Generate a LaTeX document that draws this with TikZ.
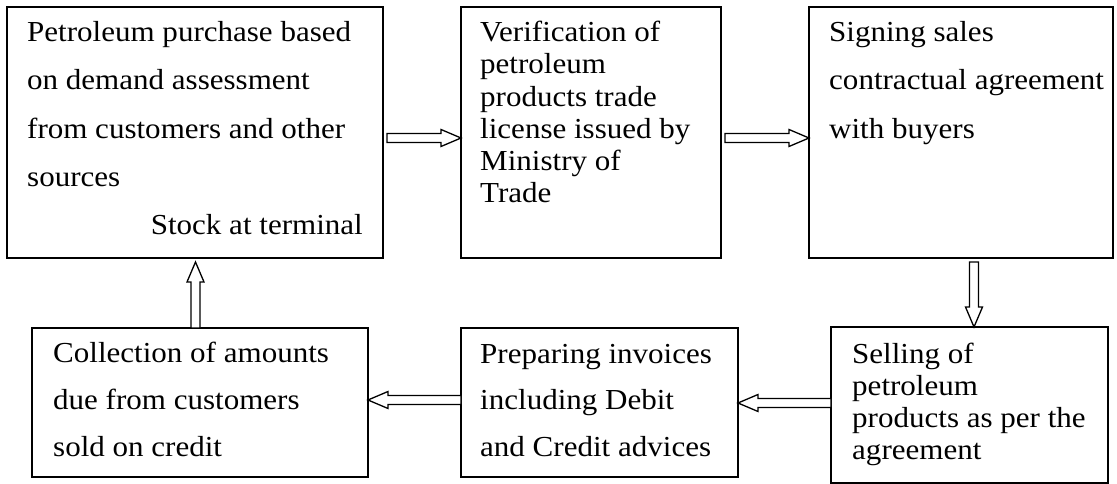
\documentclass[tikz,border=0pt]{standalone}
\usepackage{fontspec}
\setmainfont{Liberation Serif}[FakeStretch=1.07]
\usetikzlibrary{calc}
\newcommand{\boxlines}[1]{\begin{tabular}[t]{@{}l@{}}#1\end{tabular}}
\newcommand{\hollowarrow}[3]{%
  \coordinate (#1h) at ($(#3)!20pt!(#2)$);
  \draw[arrowline] ($(#2)!4.5pt!90:(#3)$) -- ($(#1h)!4.5pt!90:(#3)$) -- ($(#1h)!8.5pt!90:(#3)$) -- (#3)
    -- ($(#1h)!8.5pt!-90:(#3)$) -- ($(#1h)!4.5pt!-90:(#3)$) -- ($(#2)!4.5pt!-90:(#3)$) -- cycle;}
\tikzset{
  box/.style={draw, line width=1.4pt, rectangle, inner sep=0pt, outer sep=0pt},
  arrowline/.style={draw, line width=1.3pt, fill=white, line join=miter},
  wide/.style={anchor=base west, inner sep=0pt, font=\fontsize{29}{48.3}\selectfont},
  tight/.style={anchor=base west, inner sep=0pt, font=\fontsize{29}{32.2}\selectfont},
  mid/.style={anchor=base west, inner sep=0pt, font=\fontsize{29}{46.7}\selectfont}
}
\begin{document}
\begin{tikzpicture}[x=1pt,y=1pt]
\path[fill=white, use as bounding box] (0,0) rectangle (1117,484);

% boxes
\node[box, minimum width=376pt, minimum height=251pt] (b1) at (195,351.5) {};
\node[box, minimum width=260pt, minimum height=251pt] (b2) at (591,351.5) {};
\node[box, minimum width=304pt, minimum height=251pt] (b3) at (961,351.5) {};
\node[box, minimum width=277pt, minimum height=156pt] (b4) at (969.5,79) {};
\node[box, minimum width=277pt, minimum height=149pt] (b5) at (599.5,81.5) {};
\node[box, minimum width=336pt, minimum height=149pt] (b6) at (200,81.5) {};

% texts
\node[wide] (t1) at (27,442.3) {\boxlines{Petroleum purchase based\\on demand assessment\\from customers and other\\sources}};
\node[anchor=base east, inner sep=0pt, font=\fontsize{29}{32}\selectfont] (t1b) at (363,249) {Stock at terminal};
\node[tight] (t2) at (480,442.3) {\boxlines{Verification of\\petroleum\\products trade\\license issued by\\Ministry of\\Trade}};
\node[wide] (t3) at (829,442.3) {\boxlines{Signing sales\\contractual agreement\\with buyers}};
\node[tight] (t4) at (852,120.7) {\boxlines{Selling of\\petroleum\\products as per the\\agreement}};
\node[mid] (t5) at (480,120.7) {\boxlines{Preparing invoices\\including Debit\\and Credit advices}};
\node[mid] (t6) at (53,121) {\boxlines{Collection of amounts\\due from customers\\sold on credit}};

% arrow end points
\coordinate (a12s) at ($(b1.east)+(4,-5.5)$);
\coordinate (a12e) at ($(b2.west)+(0,-5.5)$);
\coordinate (a23s) at ($(b2.east)+(4,-5.5)$);
\coordinate (a23e) at ($(b3.west)+(0,-5.5)$);
\coordinate (a34s) at ($(b3.south)+(13,-4)$);
\coordinate (a34e) at ($(b4.north)+(4.5,0)$);
\coordinate (a45s) at ($(b4.west)+(0,2)$);
\coordinate (a45e) at ($(b5.east)+(0,-0.5)$);
\coordinate (a56s) at ($(b5.west)+(0,2.5)$);
\coordinate (a56e) at ($(b6.east)+(0,2.5)$);
\coordinate (a61s) at ($(b6.north)+(-4.5,0)$);
\coordinate (a61e) at ($(b1.south)+(0.5,-4)$);

\hollowarrow{x12}{a12s}{a12e}
\hollowarrow{x23}{a23s}{a23e}
\hollowarrow{x34}{a34s}{a34e}
\hollowarrow{x45}{a45s}{a45e}
\hollowarrow{x56}{a56s}{a56e}
\hollowarrow{x61}{a61s}{a61e}
\end{tikzpicture}
\end{document}
